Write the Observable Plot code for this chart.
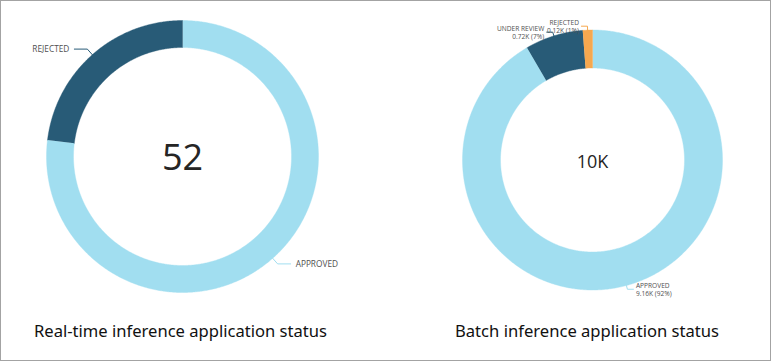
<!DOCTYPE html>
<html>
<head>
<meta charset="utf-8">
<script src="https://cdn.jsdelivr.net/npm/d3@7"></script>
<script src="https://cdn.jsdelivr.net/npm/@observablehq/plot@0.6"></script>
<style>
  html, body { margin: 0; padding: 0; background: #fff; }
  #page { position: relative; width: 771px; height: 361px; overflow: hidden; background: #fff; }
  #frame { position: absolute; left: 0; top: 0; width: 771px; height: 361px; box-sizing: border-box; border: 1px solid #a3a3a3; pointer-events: none; }
  .panel { position: absolute; top: 0; }
  .caption { position: absolute; font-family: "Noto Sans", sans-serif; font-size: 15.5px; line-height: 1; color: #111; white-space: nowrap; transform-origin: 0 0; }
</style>
</head>
<body>
<div id="page">
  <div id="left" class="panel" style="left:0px"></div>
  <div id="right" class="panel" style="left:385px"></div>
  <div id="cap1" class="caption" style="left:34px; top:324px"></div>
  <div id="cap2" class="caption" style="left:455px; top:324px"></div>
  <div id="frame"></div>
</div>
<script>
// ---- data ----
const rtStatus = ["APPROVED", "REJECTED"];
const rtCounts = [40, 12];
const rtColors = ["#a1def0", "#285b77"];

const batchStatus = ["APPROVED", "UNDER REVIEW", "REJECTED"];
const batchCounts = [9160, 720, 120];
const batchColors = ["#a1def0", "#285b77", "#f6a84f"];

const captions = ["Real-time inference application status", "Batch inference application status"];

// ---- helpers ----
function donut({status, counts, colors, inner, margins, labelFn, centerText, labelSize, centerSize, centerDy, elbowR, horizPx, gapPx, radiusPx}) {
  const rows = status.map((s, i) => ({slice: s, value: counts[i], color: colors[i]}));
  const total = d3.sum(rows, d => d.value);
  const arcs = d3.pie().sort(null).value(d => d.value).startAngle(0).endAngle(2 * Math.PI)(rows);
  const poly = [];
  const leaders = [];
  const labels = [];
  for (const a of arcs) {
    const n = Math.max(2, Math.ceil((a.endAngle - a.startAngle) / (Math.PI / 360)));
    for (let k = 0; k <= n; k++) {
      const t = a.startAngle + (a.endAngle - a.startAngle) * k / n;
      poly.push({slice: a.data.slice, color: a.data.color, x: Math.sin(t), y: Math.cos(t)});
    }
    for (let k = n; k >= 0; k--) {
      const t = a.startAngle + (a.endAngle - a.startAngle) * k / n;
      poly.push({slice: a.data.slice, color: a.data.color, x: inner * Math.sin(t), y: inner * Math.cos(t)});
    }
    const m = (a.startAngle + a.endAngle) / 2;
    const side = Math.sin(m) < 0 ? -1 : 1;
    const ex = elbowR * Math.sin(m), ey = elbowR * Math.cos(m);
    const hx = ex + side * horizPx / radiusPx;
    leaders.push({slice: a.data.slice, color: a.data.color, x: Math.sin(m), y: Math.cos(m)});
    leaders.push({slice: a.data.slice, color: a.data.color, x: ex, y: ey});
    leaders.push({slice: a.data.slice, color: a.data.color, x: hx, y: ey});
    labels.push({side, x: hx + side * gapPx / radiusPx, y: ey, text: labelFn(a.data, total)});
  }
  return Plot.plot({
    width: 385,
    height: 305,
    ...margins,
    x: {domain: [-1, 1], axis: null},
    y: {domain: [-1, 1], axis: null},
    color: {type: "identity"},
    style: {background: "transparent", overflow: "visible"},
    marks: [
      Plot.line(poly, {x: "x", y: "y", z: "slice", fill: "color", stroke: "color", strokeWidth: 0.4}),
      Plot.line(leaders, {x: "x", y: "y", z: "slice", stroke: "color", strokeWidth: 1}),
      Plot.text(labels.filter(d => d.side < 0), {x: "x", y: "y", text: "text", textAnchor: "end", fontSize: labelSize, fill: "#505050", fontFamily: "'Open Sans', sans-serif", lineHeight: 1.2}),
      Plot.text(labels.filter(d => d.side > 0), {x: "x", y: "y", text: "text", textAnchor: "start", fontSize: labelSize, fill: "#505050", fontFamily: "'Open Sans', sans-serif", lineHeight: 1.2}),
      Plot.text([centerText(total)], {frameAnchor: "middle", text: d => d, fontSize: centerSize, dy: centerDy, fill: "#252525", fontFamily: "'Open Sans', sans-serif"})
    ]
  });
}

const left = donut({
  status: rtStatus, counts: rtCounts, colors: rtColors,
  inner: 109 / 136,
  margins: {marginLeft: 46, marginRight: 67, marginTop: 20, marginBottom: 13},
  labelFn: d => d.slice,
  centerText: t => String(t),
  labelSize: 8.3, centerSize: 36, centerDy: 2,
  elbowR: 1.055, horizPx: 13, gapPx: 5, radiusPx: 136
});
document.getElementById("left").appendChild(left);

const right = donut({
  status: batchStatus, counts: batchCounts, colors: batchColors,
  inner: 92 / 130,
  margins: {marginLeft: 77, marginRight: 48, marginTop: 29.5, marginBottom: 15.5},
  labelFn: (d, total) => `${d.slice}\n${(d.value / 1000).toFixed(2)}K (${Math.round(d.value / total * 100)}%)`,
  centerText: t => `${Math.round(t / 1000)}K`,
  labelSize: 6.6, centerSize: 18, centerDy: 2,
  elbowR: 1.03, horizPx: 6, gapPx: 2.5, radiusPx: 130
});
document.getElementById("right").appendChild(right);

// captions, fitted to the reference widths
const capWidths = [293, 264];
["cap1", "cap2"].forEach((id, i) => {
  const el = document.getElementById(id);
  el.textContent = captions[i];
  const w = el.getBoundingClientRect().width;
  el.style.transform = `scaleX(${capWidths[i] / w})`;
});
</script>
</body>
</html>
